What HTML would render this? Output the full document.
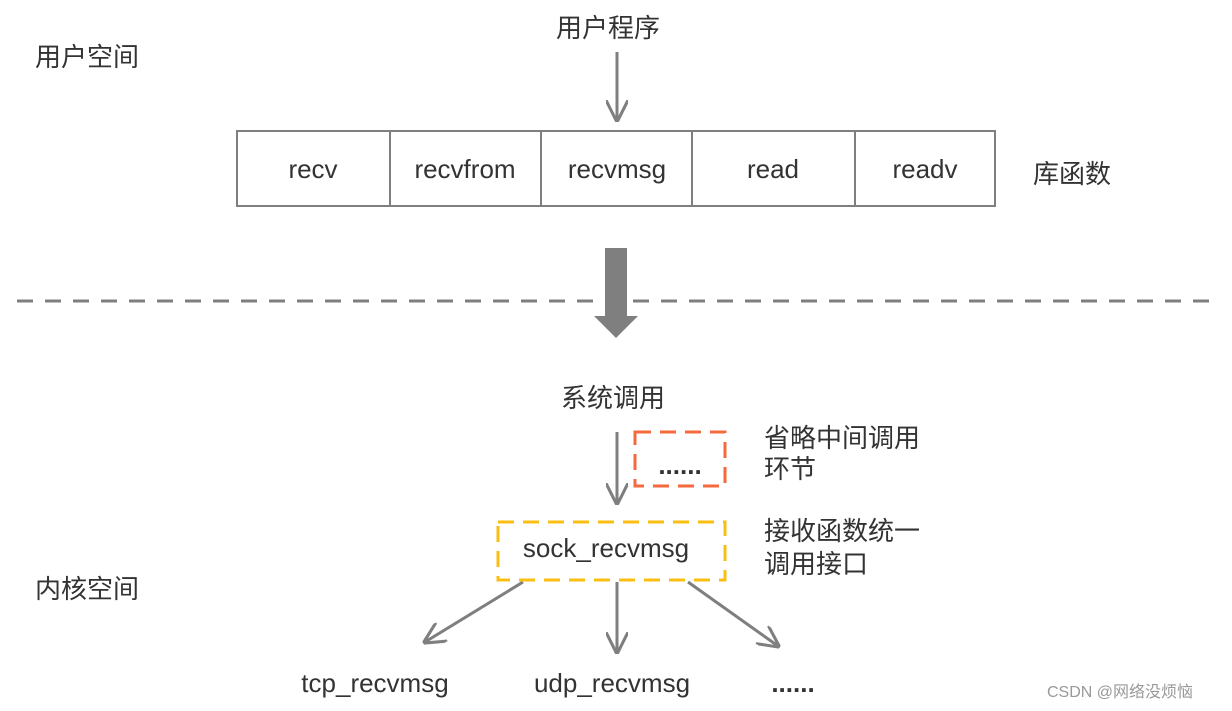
<!DOCTYPE html>
<html><head><meta charset="utf-8"><style>body{margin:0;background:#fff}svg{display:block}text{font-family:"Liberation Sans","Noto Sans CJK SC",sans-serif;fill:#333}</style></head><body>
<svg width="1232" height="711" viewBox="0 0 1232 711">
<defs>
<marker id="b" viewBox="0 0 10 10" markerWidth="22" markerHeight="22" refX="9" refY="5" orient="auto" markerUnits="userSpaceOnUse"><path d="M0,0 L10,5 L0,10" fill="none" stroke="#7f7f7f" stroke-width="1.4"/></marker></defs>
<g font-size="26">
<text x="35" y="66">用户空间</text>
<text x="556" y="37">用户程序</text>
<text x="1033" y="183">库函数</text>
<text x="561" y="407">系统调用</text>
<text x="764" y="447">省略中间调用</text>
<text x="764" y="478">环节</text>
<text x="764" y="540">接收函数统一</text>
<text x="764" y="573">调用接口</text>
<text x="35" y="598">内核空间</text>
</g>
<g stroke="#7f7f7f" stroke-width="3" fill="none">
<line x1="617" y1="52" x2="617" y2="120" marker-end="url(#b)"/>
<line x1="617" y1="432" x2="617" y2="503" marker-end="url(#b)"/>
<line x1="523" y1="582" x2="425" y2="642" marker-end="url(#b)"/>
<line x1="617" y1="582" x2="617" y2="652" marker-end="url(#b)"/>
<line x1="688" y1="582" x2="778" y2="646" marker-end="url(#b)"/>
</g>
<rect x="237" y="131" width="758" height="75" fill="none" stroke="#7f7f7f" stroke-width="2"/>
<g stroke="#7f7f7f" stroke-width="2"><line x1="390" y1="131" x2="390" y2="206"/><line x1="541" y1="131" x2="541" y2="206"/><line x1="692" y1="131" x2="692" y2="206"/><line x1="855" y1="131" x2="855" y2="206"/></g>
<g font-size="26" text-anchor="middle">
<text x="313" y="178">recv</text><text x="465" y="178">recvfrom</text><text x="617" y="178">recvmsg</text><text x="773" y="178">read</text><text x="925" y="178">readv</text>
<text x="606" y="557">sock_recvmsg</text>
<text x="375" y="692">tcp_recvmsg</text><text x="612" y="692">udp_recvmsg</text><text x="793" y="692" font-weight="bold">......</text>
<text x="680" y="474" font-weight="bold">......</text>
</g>
<line x1="17" y1="301" x2="1215" y2="301" stroke="#7f7f7f" stroke-width="3" stroke-dasharray="16,12"/>
<polygon points="605,248 627,248 627,316 638,316 616,338 594,316 605,316" fill="#7f7f7f"/>
<rect x="635" y="432" width="90" height="54" fill="none" stroke="#f46a3c" stroke-width="3" stroke-dasharray="16,9"/>
<rect x="498" y="522" width="227" height="58" fill="none" stroke="#fbbf14" stroke-width="3" stroke-dasharray="16,9"/>
<text x="1047" y="697" font-size="16" style="fill:#999">CSDN @网络没烦恼</text>
</svg></body></html>
